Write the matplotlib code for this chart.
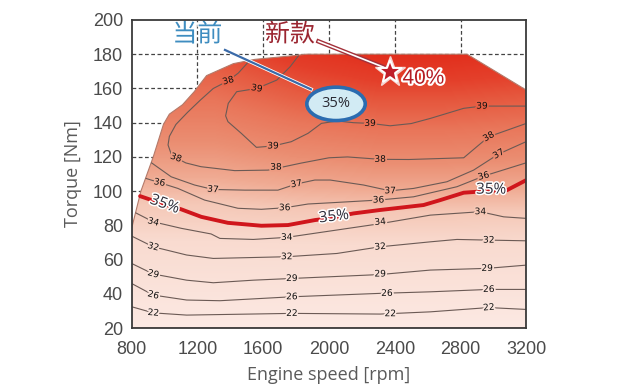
import numpy as np
import matplotlib

matplotlib.use("Agg")
import matplotlib.pyplot as plt
import matplotlib.patheffects as pe
from matplotlib.colors import LinearSegmentedColormap
from matplotlib.patches import Polygon, Ellipse

# full-load (max torque) boundary of the map
BOUND_RPM = [800, 857, 932, 994, 1030, 1110, 1180, 1256, 1419, 1550, 1800, 1860, 2840, 3200, 3200, 800]
BOUND_NM = [78, 100, 120, 139, 145, 150.5, 158, 167.5, 174.5, 177, 179.3, 180, 180, 159, 20, 20]

# efficiency contours (rpm, Nm)
RPM_22 = [800, 932, 1135, 1774, 2311, 2616, 2971, 3200]
NM_22 = [32.5, 28.9, 27.6, 28.6, 28.2, 29.5, 32.0, 30.9]
RPM_26 = [800, 932, 1135, 1337, 1774, 2311, 2616, 2971, 3200]
NM_26 = [46.1, 39.3, 36.4, 36.0, 38.3, 40.3, 41.2, 42.6, 42.6]
RPM_29 = [800, 932, 1135, 1297, 1540, 1774, 2311, 2616, 2961, 3200]
NM_29 = [57.8, 51.6, 48.0, 46.5, 48.0, 49.0, 51.3, 53.9, 54.9, 56.8]
RPM_32 = [800, 932, 1135, 1297, 1743, 2048, 2311, 2616, 2778, 2971, 3200]
NM_32 = [73.8, 67.5, 62.7, 60.7, 61.7, 63.6, 67.5, 70.4, 71.8, 71.4, 71.0]
RPM_34 = [822, 932, 1102, 1284, 1337, 1540, 1743, 2048, 2311, 2616, 2920, 3062, 3200]
NM_34 = [87.5, 82.1, 78.3, 75.0, 72.4, 71.8, 73.0, 77.3, 81.0, 86.0, 88.0, 85.0, 84.1]
RPM_35 = [852, 980, 1102, 1224, 1386, 1589, 1751, 1914, 1995, 2149, 2311, 2575, 2677,
          2819, 2981, 3082, 3200]
NM_35 = [97.1, 92.9, 89.4, 85.0, 81.5, 79.8, 80.2, 83.1, 84.1, 87.0, 89.0, 91.9, 94.8,
         99.1, 100.2, 100.6, 106.5]
RPM_36 = [886, 970, 1082, 1244, 1447, 1589, 1731, 1873, 2007, 2301, 2514, 2778, 2940, 3200]
NM_36 = [107.5, 105.0, 101.6, 94.8, 90.0, 89.4, 90.3, 92.5, 93.2, 94.8, 96.7, 102.6, 108.8, 116.6]
RPM_37 = [915, 1041, 1183, 1295, 1488, 1690, 1802, 1914, 2007, 2210, 2372, 2514, 2717,
          2879, 3031, 3200]
NM_37 = [117.0, 108.4, 103.6, 101.0, 100.6, 100.6, 104.2, 106.5, 106.5, 103.6, 100.2,
         101.6, 105.5, 112.3, 121.7, 129.0]
RPM_38 = [1520, 1449, 1388, 1297, 1216, 1140, 1070, 1030, 1022, 1040, 1070, 1130, 1222,
          1427, 1630, 1831, 2000, 2113, 2311, 2486, 2819, 2899, 2971, 3200]
NM_38 = [176.5, 169.0, 164.5, 160.0, 153.0, 146.0, 139.0, 132.0, 127.0, 122.0, 119.5,
         116.5, 114.3, 112.0, 112.3, 116.4, 119.5, 120.0, 118.6, 118.5, 119.5, 126.0,
         131.8, 139.6]
RPM_39 = [1814, 1764, 1683, 1561, 1439, 1388, 1372, 1386, 1467, 1559, 1660, 1771, 1873,
          1954, 2050, 2150, 2250, 2372, 2500, 2616, 2819, 2930, 3200]
NM_39 = [179.0, 172.7, 164.9, 160.0, 158.1, 151.3, 144.0, 140.6, 133.8, 125.6, 126.4,
         128.9, 133.8, 139.6, 141.0, 140.0, 139.6, 138.2, 139.5, 142.5, 148.4, 149.7, 149.7]

CONTOURS = [(RPM_22, NM_22), (RPM_26, NM_26), (RPM_29, NM_29), (RPM_32, NM_32),
            (RPM_34, NM_34), (RPM_36, NM_36), (RPM_37, NM_37), (RPM_38, NM_38),
            (RPM_39, NM_39)]

# contour labels: text, rpm, Nm, rotation
LABEL_TXT = ["22", "22", "22", "22", "26", "26", "26", "26", "29", "29", "29", "29",
             "32", "32", "32", "32", "34", "34", "34", "34", "36", "36", "36", "36",
             "37", "37", "37", "37", "38", "38", "38", "38", "38", "39", "39", "39", "39"]
LABEL_RPM = [932, 1774, 2372, 2971, 932, 1774, 2352, 2971, 932, 1774, 2311, 2961,
             932, 1743, 2311, 2971, 932, 1743, 2311, 2920, 970, 1731, 2301, 2940,
             1295, 1802, 2372, 3031, 1070, 1388, 1678, 2311, 2971, 1561, 1660, 2250, 2930]
LABEL_NM = [28.9, 28.6, 28.4, 32.0, 39.3, 38.3, 40.3, 42.6, 51.6, 49.0, 51.6, 54.9,
            67.5, 61.7, 67.5, 71.4, 82.0, 73.0, 82.0, 88.0, 105.0, 90.3, 94.8, 108.8,
            101.0, 104.2, 100.2, 121.7, 119.5, 164.5, 114.0, 118.6, 131.8, 160.0, 126.4,
            139.6, 149.7]
LABEL_ROT = [-5, 0, 0, 5, -15, 0, 0, 0, -15, 0, 0, 0, -15, 0, 5, 0, -15, 0, 5, 0,
             -10, 0, 0, 15, -5, 10, 0, 30, -20, 15, 0, 0, 30, -10, 0, 0, 0]

PCT_RPM = [1000, 2030, 2985]
PCT_NM = [92.0, 84.8, 100.6]
PCT_ROT = [-20, 7, 0]

ELLIPSE_RPM, ELLIPSE_NM = 2043, 151.0
STAR_RPM, STAR_NM = 2372, 169.8

XTICKS = [800, 1200, 1600, 2000, 2400, 2800, 3200]
YTICKS = [20, 40, 60, 80, 100, 120, 140, 160, 180, 200]

TICK_FONT = ["Liberation Sans Narrow", "Liberation Sans"]
CJK = ["Noto Sans CJK SC", "DejaVu Sans"]

cmap = LinearSegmentedColormap.from_list("eff", [
    (0.00, "#fce9e3"), (0.30, "#f9dbd0"), (0.42, "#f5c8b7"), (0.50, "#f0ab93"),
    (0.60, "#eb8f73"), (0.72, "#e9765a"), (0.82, "#e65a40"), (0.90, "#e4402b"),
    (1.00, "#e22e1c")])


def shade(rpm, nm):
    t = np.clip((nm - 20) / 160.0, 0, 1)
    h = np.interp(rpm, [800, 1300, 1800, 2300, 2700, 3200], [0.84, 0.84, 0.94, 1.0, 1.0, 0.97])
    return t * (1 - (1 - h) * t)


fig = plt.figure(figsize=(6.4, 3.92), dpi=100)
ax = fig.add_axes([0.2055, 0.163, 0.617, 0.786])
ax.set_xlim(800, 3200)
ax.set_ylim(20, 200)

# dashed grid, covered by the map
for x in XTICKS[1:-1]:
    ax.axvline(x, color="#444", lw=0.9, ls=(0, (3, 2)), zorder=0.5)
for y in YTICKS[1:-1]:
    ax.axhline(y, color="#444", lw=0.9, ls=(0, (3, 2)), zorder=0.5)

# gradient fill clipped to the full-load curve
gx = np.linspace(800, 3200, 400)
gy = np.linspace(20, 200, 300)
GX, GY = np.meshgrid(gx, gy)
img = ax.imshow(shade(GX, GY), extent=[800, 3200, 20, 200], origin="lower",
                cmap=cmap, vmin=0, vmax=1, aspect="auto", zorder=1,
                interpolation="bilinear")
poly = Polygon(np.column_stack([BOUND_RPM, BOUND_NM]), closed=True,
               facecolor="none", edgecolor="#b47a6a", lw=0.8, zorder=1.5)
ax.add_patch(poly)
img.set_clip_path(poly)

for rpm, nm in CONTOURS:
    ln, = ax.plot(rpm, nm, color="#6b5a55", lw=0.8, zorder=2)
    ln.set_clip_path(poly)

ax.plot(RPM_35, NM_35, color="#d0161c", lw=2.8, solid_capstyle="round", zorder=3)

for txt, x, y, r in zip(LABEL_TXT, LABEL_RPM, LABEL_NM, LABEL_ROT):
    bg = cmap(float(shade(x, y)))
    ax.text(x, y, txt, fontsize=6.5, color="#111111", ha="center", va="center",
            rotation=r, zorder=4,
            path_effects=[pe.withStroke(linewidth=2.5, foreground=bg)])

for x, y, r in zip(PCT_RPM, PCT_NM, PCT_ROT):
    ax.text(x, y, "35%", fontsize=11, color="#2e2e3a", ha="center", va="center",
            rotation=r, zorder=5, family=["Open Sans", "DejaVu Sans"],
            path_effects=[pe.withStroke(linewidth=2.2, foreground="white")])

# current model: ellipse with leader
ax.plot([1368, 1890], [182.5, 159.5], color="#3a6aa8", lw=1.6, zorder=5,
        path_effects=[pe.withStroke(linewidth=2.8, foreground="white")])
ax.add_patch(Ellipse((ELLIPSE_RPM, ELLIPSE_NM), 355, 19.5, facecolor="#d2ebf4",
                     edgecolor="#2b6cb0", lw=2.6, zorder=6))
ax.text(ELLIPSE_RPM, ELLIPSE_NM, "35%", fontsize=10.5, color="#2a2a33", ha="center",
        va="center", zorder=7, family=["Open Sans", "DejaVu Sans"])
ax.text(1200, 191.5, "当前", fontsize=18, color="#3f8dc0", ha="center", va="center",
        family=CJK, zorder=7,
        path_effects=[pe.withStroke(linewidth=2, foreground="white")])

# new model: star with double leader
ax.plot([1936, 2330], [187.5, 172.5], color="#a3303a", lw=3.2, zorder=5)
ax.plot([1936, 2330], [187.5, 172.5], color="white", lw=1.2, zorder=5.1)
ax.plot(STAR_RPM, STAR_NM, marker="*", markersize=23, color="#f4d6d2", zorder=6)
ax.plot(STAR_RPM, STAR_NM, marker="*", markersize=18, markerfacecolor="#c01e2a",
        markeredgecolor="white", mew=1.4, zorder=6.5)
ax.text(2575, 166, "40%", fontsize=15, color="#b51d25", ha="center", va="center",
        family=TICK_FONT, zorder=7,
        path_effects=[pe.withStroke(linewidth=3, foreground="white")])
ax.text(1763, 191.5, "新款", fontsize=18, color="#9b2530", ha="center", va="center",
        family=CJK, zorder=7,
        path_effects=[pe.withStroke(linewidth=2, foreground="white")])

ax.set_xticks(XTICKS)
ax.set_yticks(YTICKS)
ax.tick_params(length=0, labelsize=13, labelcolor="#4a4a4a")
ax.tick_params(axis="x", pad=9)
ax.tick_params(axis="y", pad=6)
for lab in ax.get_xticklabels() + ax.get_yticklabels():
    lab.set_family(TICK_FONT)
for s in ax.spines.values():
    s.set_color("#3a3a3a")
    s.set_linewidth(1.3)
    s.set_zorder(8)

ax.set_xlabel("Engine speed [rpm]", fontsize=13, color="#5a5a5a",
              family=["Open Sans", "DejaVu Sans"], labelpad=6)
ax.set_ylabel("Torque [Nm]", fontsize=13, color="#5a5a5a",
              family=["Open Sans", "DejaVu Sans"], labelpad=8)

fig.savefig("out.png", dpi=100)
